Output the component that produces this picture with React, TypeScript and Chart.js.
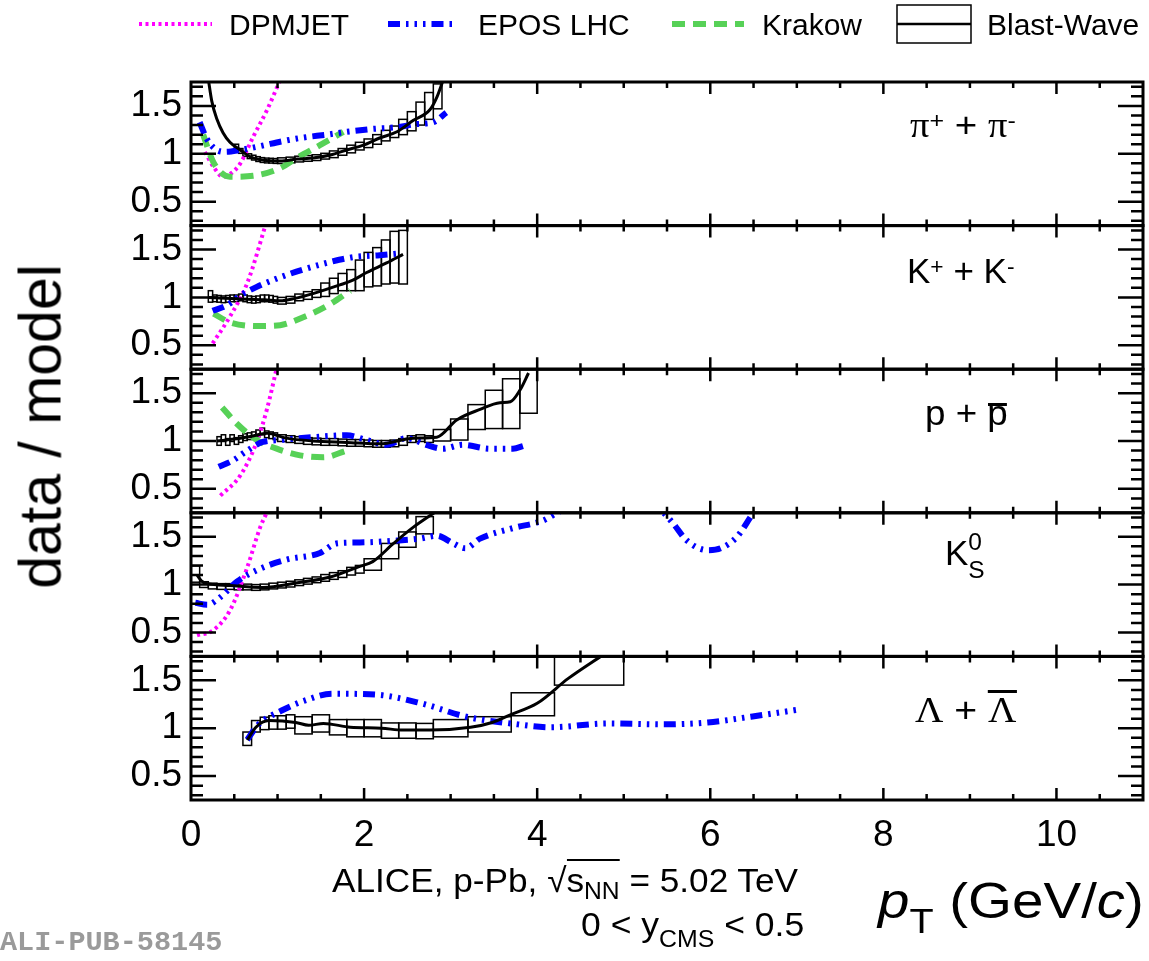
import React, { useEffect, useRef } from 'react';
import { Chart, registerables } from 'chart.js';

Chart.register(...registerables);

// ---------- page / frame geometry ----------
const W = 1149;
const H = 961;
const PLOT_LEFT = 191;
const PLOT_RIGHT = 1143;
const PLOT_TOP = 82;
const PANEL_H = 143.6;
const X_MIN = 0;
const X_MAX = 11;
const Y_MIN = 0.25;
const Y_MAX = 1.75;
const X_TICKS = [0, 2, 4, 6, 8, 10];
const Y_TICKS = [0.5, 1, 1.5];

const SANS = '"Liberation Sans", Arial, Helvetica, sans-serif';
const SERIF = '"Liberation Serif", "Times New Roman", serif';
const MONO = '"Liberation Mono", "DejaVu Sans Mono", monospace';

const C_DPMJET = '#ff00ff';
const C_EPOS = '#0000ff';
const C_KRAKOW = '#57d157';
const C_BW = '#000000';

// ---------- pi+ + pi- ----------
const PI_BW_X = [0.2, 0.24, 0.3, 0.37, 0.45, 0.57, 0.68, 0.83, 1.03, 1.23, 1.41, 1.61, 1.8, 1.99, 2.18, 2.38, 2.57, 2.76, 2.84, 2.91];
const PI_BW_Y = [1.78, 1.55, 1.36, 1.22, 1.12, 1.04, 0.97, 0.935, 0.925, 0.945, 0.956, 0.987, 1.04, 1.09, 1.165, 1.23, 1.35, 1.46, 1.59, 1.76];
const PI_BOX_LO = [0.5, 0.55, 0.6, 0.65, 0.7, 0.75, 0.8, 0.85, 0.9, 0.95, 1.0, 1.1, 1.2, 1.3, 1.4, 1.5, 1.6, 1.7, 1.8, 1.9, 2.0, 2.1, 2.2, 2.3, 2.4, 2.5, 2.6, 2.7, 2.8];
const PI_BOX_HI = [0.55, 0.6, 0.65, 0.7, 0.75, 0.8, 0.85, 0.9, 0.95, 1.0, 1.1, 1.2, 1.3, 1.4, 1.5, 1.6, 1.7, 1.8, 1.9, 2.0, 2.1, 2.2, 2.3, 2.4, 2.5, 2.6, 2.7, 2.8, 2.9];
const PI_BOX_Y = [1.07, 1.03, 1.0, 0.975, 0.96, 0.945, 0.935, 0.93, 0.928, 0.925, 0.928, 0.935, 0.945, 0.952, 0.96, 0.975, 0.995, 1.02, 1.05, 1.08, 1.11, 1.15, 1.19, 1.23, 1.28, 1.34, 1.42, 1.5, 1.6];
const PI_BOX_ERR = [0.03, 0.025, 0.025, 0.025, 0.025, 0.025, 0.025, 0.025, 0.025, 0.025, 0.03, 0.03, 0.03, 0.03, 0.03, 0.03, 0.035, 0.035, 0.04, 0.04, 0.045, 0.05, 0.055, 0.06, 0.08, 0.1, 0.12, 0.14, 0.13];
const PI_EPOS_X = [0.1, 0.18, 0.28, 0.4, 0.57, 0.8, 1.05, 1.3, 1.57, 1.8, 2.1, 2.4, 2.6, 2.8, 2.95];
const PI_EPOS_Y = [1.33, 1.16, 1.05, 1.02, 1.04, 1.08, 1.13, 1.17, 1.2, 1.23, 1.26, 1.28, 1.31, 1.33, 1.43];
const PI_KRAKOW_X = [0.14, 0.26, 0.45, 0.72, 1.03, 1.23, 1.49, 1.76];
const PI_KRAKOW_Y = [1.2, 0.91, 0.76, 0.77, 0.85, 0.96, 1.09, 1.23];
const PI_DPMJET_X = [0.16, 0.27, 0.37, 0.47, 0.57, 0.72, 0.88, 1.03];
const PI_DPMJET_Y = [1.02, 0.85, 0.76, 0.8, 0.9, 1.18, 1.46, 1.77];

// ---------- K+ + K- ----------
const K_BW_X = [0.2, 0.4, 0.65, 0.85, 1.03, 1.2, 1.41, 1.72, 1.87, 2.03, 2.26, 2.45];
const K_BW_Y = [1.0, 0.99, 0.98, 0.975, 0.965, 0.99, 1.04, 1.13, 1.18, 1.26, 1.36, 1.45];
const K_BOX_LO = [0.2, 0.25, 0.3, 0.35, 0.4, 0.45, 0.5, 0.55, 0.6, 0.65, 0.7, 0.75, 0.8, 0.85, 0.9, 0.95, 1.0, 1.1, 1.2, 1.3, 1.4, 1.5, 1.6, 1.7, 1.8, 1.9, 2.0, 2.1, 2.2, 2.3, 2.4];
const K_BOX_HI = [0.25, 0.3, 0.35, 0.4, 0.45, 0.5, 0.55, 0.6, 0.65, 0.7, 0.75, 0.8, 0.85, 0.9, 0.95, 1.0, 1.1, 1.2, 1.3, 1.4, 1.5, 1.6, 1.7, 1.8, 1.9, 2.0, 2.1, 2.2, 2.3, 2.4, 2.5];
const K_BOX_Y = [1.01, 0.99, 0.985, 0.98, 0.985, 0.99, 0.99, 1.0, 0.99, 0.98, 0.975, 0.98, 0.99, 0.99, 0.985, 0.975, 0.965, 0.975, 1.0, 1.02, 1.04, 1.08, 1.12, 1.16, 1.18, 1.23, 1.29, 1.32, 1.37, 1.42, 1.42];
const K_BOX_ERR = [0.06, 0.035, 0.035, 0.035, 0.035, 0.035, 0.035, 0.035, 0.035, 0.035, 0.035, 0.035, 0.035, 0.035, 0.035, 0.035, 0.035, 0.035, 0.035, 0.04, 0.04, 0.07, 0.08, 0.09, 0.11, 0.16, 0.18, 0.2, 0.23, 0.27, 0.28];
const K_EPOS_X = [0.25, 0.42, 0.57, 0.76, 1.03, 1.29, 1.61, 1.87, 2.18, 2.42];
const K_EPOS_Y = [0.86, 0.92, 1.02, 1.11, 1.21, 1.29, 1.37, 1.42, 1.44, 1.46];
const K_KRAKOW_X = [0.26, 0.45, 0.76, 1.03, 1.29, 1.57, 1.84];
const K_KRAKOW_Y = [0.83, 0.74, 0.7, 0.71, 0.79, 0.91, 1.07];
const K_DPMJET_X = [0.25, 0.45, 0.65, 0.87];
const K_DPMJET_Y = [0.52, 0.8, 1.15, 1.78];

// ---------- p + pbar ----------
const P_BW_X = [0.3, 0.5, 0.7, 0.88, 1.1, 1.41, 1.8, 2.18, 2.57, 2.84, 3.07, 3.34, 3.57, 3.69, 3.8, 3.9];
const P_BW_Y = [1.0, 1.02, 1.05, 1.08, 1.03, 1.0, 0.985, 0.97, 1.03, 1.04, 1.22, 1.33, 1.4, 1.41, 1.53, 1.71];
const P_BOX_LO = [0.3, 0.35, 0.4, 0.45, 0.5, 0.55, 0.6, 0.65, 0.7, 0.75, 0.8, 0.85, 0.9, 0.95, 1.0, 1.1, 1.2, 1.3, 1.4, 1.5, 1.6, 1.7, 1.8, 1.9, 2.0, 2.1, 2.2, 2.3, 2.4, 2.5, 2.6, 2.7, 2.8, 3.0, 3.2, 3.4, 3.6, 3.8];
const P_BOX_HI = [0.35, 0.4, 0.45, 0.5, 0.55, 0.6, 0.65, 0.7, 0.75, 0.8, 0.85, 0.9, 0.95, 1.0, 1.1, 1.2, 1.3, 1.4, 1.5, 1.6, 1.7, 1.8, 1.9, 2.0, 2.1, 2.2, 2.3, 2.4, 2.5, 2.6, 2.7, 2.8, 3.0, 3.2, 3.4, 3.6, 3.8, 4.0];
const P_BOX_Y = [1.0, 1.03, 0.99, 1.03, 1.0, 1.02, 1.04, 1.05, 1.06, 1.08, 1.1, 1.07, 1.06, 1.05, 1.03, 1.02, 1.01, 1.0, 0.995, 0.99, 0.99, 0.985, 0.98, 0.98, 0.975, 0.97, 0.97, 0.975, 0.99, 1.02, 1.03, 1.02, 1.06, 1.12, 1.25, 1.33, 1.39, 1.52];
const P_BOX_ERR = [0.045, 0.035, 0.035, 0.035, 0.035, 0.035, 0.035, 0.035, 0.035, 0.035, 0.035, 0.035, 0.035, 0.035, 0.035, 0.035, 0.035, 0.035, 0.035, 0.035, 0.035, 0.035, 0.035, 0.035, 0.035, 0.035, 0.035, 0.035, 0.035, 0.035, 0.035, 0.035, 0.06, 0.11, 0.13, 0.2, 0.26, 0.23];
const P_EPOS_X = [0.32, 0.49, 0.65, 0.83, 1.03, 1.41, 1.8, 2.03, 2.26, 2.49, 2.72, 2.91, 3.14, 3.45, 3.72, 3.85];
const P_EPOS_Y = [0.73, 0.8, 0.9, 0.99, 1.01, 1.04, 1.06, 1.01, 0.96, 1.03, 0.96, 0.92, 0.96, 0.92, 0.92, 0.95];
const P_KRAKOW_X = [0.36, 0.53, 0.76, 0.99, 1.26, 1.53, 1.8];
const P_KRAKOW_Y = [1.35, 1.18, 1.01, 0.92, 0.85, 0.83, 0.9];
const P_DPMJET_X = [0.34, 0.57, 0.76, 0.88, 0.99];
const P_DPMJET_Y = [0.43, 0.64, 0.99, 1.34, 1.76];

// ---------- K0s ----------
const K0_BW_X = [0.07, 0.12, 0.19, 0.45, 0.83, 1.23, 1.61, 1.95, 2.1, 2.34, 2.57, 2.86];
const K0_BW_Y = [1.1, 1.04, 1.01, 0.99, 0.97, 1.02, 1.08, 1.19, 1.24, 1.43, 1.6, 1.78];
const K0_BOX_LO = [0.0, 0.1, 0.2, 0.3, 0.4, 0.5, 0.6, 0.7, 0.8, 0.9, 1.0, 1.1, 1.2, 1.3, 1.4, 1.5, 1.6, 1.7, 1.8, 1.9, 2.0, 2.2, 2.4, 2.6];
const K0_BOX_HI = [0.1, 0.2, 0.3, 0.4, 0.5, 0.6, 0.7, 0.8, 0.9, 1.0, 1.1, 1.2, 1.3, 1.4, 1.5, 1.6, 1.7, 1.8, 1.9, 2.0, 2.2, 2.4, 2.6, 2.8];
const K0_BOX_Y = [1.11, 1.0, 0.985, 0.98, 0.98, 0.975, 0.975, 0.97, 0.975, 0.985, 0.995, 1.005, 1.02, 1.035, 1.05, 1.07, 1.09, 1.11, 1.14, 1.16, 1.21, 1.35, 1.47, 1.62];
const K0_BOX_ERR = [0.085, 0.03, 0.03, 0.03, 0.03, 0.03, 0.03, 0.03, 0.03, 0.03, 0.03, 0.03, 0.03, 0.03, 0.03, 0.035, 0.035, 0.035, 0.04, 0.04, 0.06, 0.08, 0.08, 0.09];
const K0_EPOS_X = [0.05, 0.19, 0.34, 0.53, 0.76, 1.1, 1.49, 1.68, 1.95, 2.38, 2.64, 2.84, 3.03, 3.17, 3.34, 3.72, 4.07, 4.23, 4.6, 5.0, 5.3, 5.46, 5.57, 5.73, 5.97, 6.12, 6.31, 6.5, 6.7];
const K0_EPOS_Y = [0.81, 0.79, 0.87, 1.03, 1.15, 1.26, 1.33, 1.43, 1.44, 1.46, 1.48, 1.51, 1.43, 1.38, 1.48, 1.59, 1.67, 1.75, 1.9, 1.95, 1.85, 1.75, 1.64, 1.46, 1.36, 1.38, 1.5, 1.75, 1.95];
const K0_DPMJET_X = [0.07, 0.25, 0.45, 0.65, 0.8, 0.88];
const K0_DPMJET_Y = [0.47, 0.52, 0.73, 1.18, 1.6, 1.76];

// ---------- Lambda + anti-Lambda ----------
const L_BW_X = [0.65, 0.75, 0.9, 1.21, 1.36, 1.53, 1.84, 2.2, 2.45, 2.76, 3.23, 3.48, 3.69, 4.0, 4.36, 4.75];
const L_BW_Y = [0.877, 1.01, 1.08, 1.06, 1.03, 1.05, 1.01, 1.0, 0.98, 0.98, 1.01, 1.06, 1.14, 1.26, 1.52, 1.76];
const L_BOX_LO = [0.6, 0.7, 0.8, 0.9, 1.0, 1.1, 1.2, 1.4, 1.6, 1.8, 2.0, 2.2, 2.4, 2.6, 2.8, 3.2, 3.7, 4.2];
const L_BOX_HI = [0.7, 0.8, 0.9, 1.0, 1.1, 1.2, 1.4, 1.6, 1.8, 2.0, 2.2, 2.4, 2.6, 2.8, 3.2, 3.7, 4.2, 5.0];
const L_BOX_Y = [0.89, 1.02, 1.05, 1.06, 1.06, 1.07, 1.03, 1.05, 1.01, 1.0, 1.0, 0.975, 0.975, 0.97, 1.0, 1.04, 1.25, 1.6];
const L_BOX_ERR = [0.07, 0.06, 0.065, 0.07, 0.07, 0.07, 0.09, 0.09, 0.08, 0.09, 0.09, 0.08, 0.08, 0.08, 0.09, 0.08, 0.12, 0.15];
const L_EPOS_X = [0.65, 0.77, 1.06, 1.32, 1.63, 2.14, 2.66, 3.18, 3.69, 4.16, 4.82, 5.45, 5.97, 6.47, 6.99];
const L_EPOS_Y = [0.88, 1.03, 1.19, 1.29, 1.36, 1.35, 1.26, 1.12, 1.05, 1.01, 1.05, 1.04, 1.06, 1.12, 1.19];

type Series = { x: number[]; y: number[] } | null;
type PanelData = {
  bw: Series; epos: Series; krakow: Series; dpmjet: Series;
  lo: number[]; hi: number[]; v: number[]; e: number[];
};

const PANELS: PanelData[] = [
  { bw: { x: PI_BW_X, y: PI_BW_Y }, epos: { x: PI_EPOS_X, y: PI_EPOS_Y }, krakow: { x: PI_KRAKOW_X, y: PI_KRAKOW_Y }, dpmjet: { x: PI_DPMJET_X, y: PI_DPMJET_Y }, lo: PI_BOX_LO, hi: PI_BOX_HI, v: PI_BOX_Y, e: PI_BOX_ERR },
  { bw: { x: K_BW_X, y: K_BW_Y }, epos: { x: K_EPOS_X, y: K_EPOS_Y }, krakow: { x: K_KRAKOW_X, y: K_KRAKOW_Y }, dpmjet: { x: K_DPMJET_X, y: K_DPMJET_Y }, lo: K_BOX_LO, hi: K_BOX_HI, v: K_BOX_Y, e: K_BOX_ERR },
  { bw: { x: P_BW_X, y: P_BW_Y }, epos: { x: P_EPOS_X, y: P_EPOS_Y }, krakow: { x: P_KRAKOW_X, y: P_KRAKOW_Y }, dpmjet: { x: P_DPMJET_X, y: P_DPMJET_Y }, lo: P_BOX_LO, hi: P_BOX_HI, v: P_BOX_Y, e: P_BOX_ERR },
  { bw: { x: K0_BW_X, y: K0_BW_Y }, epos: { x: K0_EPOS_X, y: K0_EPOS_Y }, krakow: null, dpmjet: { x: K0_DPMJET_X, y: K0_DPMJET_Y }, lo: K0_BOX_LO, hi: K0_BOX_HI, v: K0_BOX_Y, e: K0_BOX_ERR },
  { bw: { x: L_BW_X, y: L_BW_Y }, epos: { x: L_EPOS_X, y: L_EPOS_Y }, krakow: null, dpmjet: null, lo: L_BOX_LO, hi: L_BOX_HI, v: L_BOX_Y, e: L_BOX_ERR },
];

const DASH_DPMJET = [3, 3.5];
const DASH_EPOS = [12, 6, 2.5, 6, 2.5, 6, 2.5, 6];
const DASH_KRAKOW = [13, 8];

function pts(s: { x: number[]; y: number[] }) {
  return s.x.map((x, i) => ({ x, y: s.y[i] }));
}

function lineDs(label: string, s: Series, color: string, width: number, dash: number[]) {
  if (!s) return null;
  return {
    label,
    data: pts(s),
    borderColor: color,
    backgroundColor: color,
    borderWidth: width,
    borderDash: dash,
    borderCapStyle: 'butt',
    pointRadius: 0,
    fill: false,
    cubicInterpolationMode: 'monotone',
    clip: 0,
  };
}

function makeBoxPlugin(p: PanelData) {
  return {
    id: 'bwBoxes',
    beforeDatasetsDraw(chart: any) {
      const { ctx, chartArea: a, scales } = chart;
      const xs = scales.x, ys = scales.y;
      ctx.save();
      ctx.beginPath();
      ctx.rect(a.left, a.top, a.right - a.left, a.bottom - a.top);
      ctx.clip();
      ctx.strokeStyle = '#000';
      ctx.lineWidth = 1.5;
      for (let i = 0; i < p.lo.length; i++) {
        const x0 = xs.getPixelForValue(p.lo[i]);
        const x1 = xs.getPixelForValue(p.hi[i]);
        const y0 = ys.getPixelForValue(p.v[i] + p.e[i]);
        const y1 = ys.getPixelForValue(p.v[i] - p.e[i]);
        ctx.strokeRect(x0, y0, x1 - x0, y1 - y0);
      }
      ctx.restore();
    },
  };
}

const framePlugin = {
  id: 'rootFrame',
  afterDraw(chart: any) {
    const { ctx, chartArea: a, scales } = chart;
    const xs = scales.x, ys = scales.y;
    ctx.save();
    ctx.strokeStyle = '#000';
    ctx.lineWidth = 3;
    ctx.strokeRect(a.left, a.top, a.right - a.left, a.bottom - a.top);
    ctx.lineWidth = 2.5;
    ctx.beginPath();
    for (let i = 1; i < 22; i++) {
      const v = i * 0.5;
      const px = xs.getPixelForValue(v);
      const len = i % 4 === 0 ? 12 : 6;
      ctx.moveTo(px, a.top);
      ctx.lineTo(px, a.top + len);
      ctx.moveTo(px, a.bottom);
      ctx.lineTo(px, a.bottom - len);
    }
    for (let i = 3; i <= 17; i++) {
      const v = i / 10;
      const py = ys.getPixelForValue(v);
      const len = i % 5 === 0 ? 25 : 12;
      ctx.moveTo(a.left, py);
      ctx.lineTo(a.left + len, py);
      ctx.moveTo(a.right, py);
      ctx.lineTo(a.right - len, py);
    }
    ctx.stroke();
    ctx.restore();
  },
};

function Panel({ idx }: { idx: number }) {
  const ref = useRef<HTMLCanvasElement | null>(null);
  useEffect(() => {
    const p = PANELS[idx];
    const top = PLOT_TOP + idx * PANEL_H;
    const bottom = top + PANEL_H;
    const isLast = idx === PANELS.length - 1;
    const xAxisH = isLast ? 60 : 0;
    const datasets = [
      lineDs('Blast-Wave', p.bw, C_BW, 3, []),
      lineDs('EPOS LHC', p.epos, C_EPOS, 6, DASH_EPOS),
      lineDs('Krakow', p.krakow, C_KRAKOW, 6, DASH_KRAKOW),
      lineDs('DPMJET', p.dpmjet, C_DPMJET, 4, DASH_DPMJET),
    ].filter(Boolean) as any[];
    const chart = new Chart(ref.current as HTMLCanvasElement, {
      type: 'line',
      data: { datasets },
      options: {
        responsive: false,
        animation: false,
        devicePixelRatio: 1,
        events: [],
        layout: {
          padding: { top, left: 0, right: W - PLOT_RIGHT, bottom: H - bottom - xAxisH },
        },
        plugins: { legend: { display: false }, tooltip: { enabled: false }, title: { display: false } },
        scales: {
          x: {
            type: 'linear',
            min: X_MIN,
            max: X_MAX,
            grid: { display: false, drawTicks: false },
            border: { display: false },
            ticks: {
              display: isLast,
              color: '#000',
              font: { family: SANS, size: 37 },
              padding: 14,
              maxRotation: 0,
              autoSkip: false,
              callback: (v: any) => String(v),
            },
            afterBuildTicks: (s: any) => {
              s.ticks = X_TICKS.map((value) => ({ value }));
            },
            afterFit: (s: any) => {
              s.height = xAxisH;
            },
          },
          y: {
            type: 'linear',
            min: Y_MIN,
            max: Y_MAX,
            grid: { display: false, drawTicks: false },
            border: { display: false },
            ticks: {
              color: '#000',
              font: { family: SANS, size: 37 },
              padding: 9,
              callback: (v: any) => String(v),
            },
            afterBuildTicks: (s: any) => {
              s.ticks = Y_TICKS.map((value) => ({ value }));
            },
            afterFit: (s: any) => {
              s.width = PLOT_LEFT;
            },
          },
        },
      } as any,
      plugins: [makeBoxPlugin(p), framePlugin],
    });
    return () => chart.destroy();
  }, [idx]);
  return (
    <canvas
      ref={ref}
      width={W}
      height={H}
      style={{ position: 'absolute', left: 0, top: 0, width: W, height: H }}
    />
  );
}

function Txt({ x, base, size, children, family = SANS, sx = 1, style = {} }: any) {
  return (
    <div
      style={{
        position: 'absolute',
        left: x,
        top: base - 0.8465 * size,
        fontFamily: family,
        fontSize: size,
        lineHeight: `${size}px`,
        whiteSpace: 'nowrap',
        color: '#000',
        transform: sx !== 1 ? `scaleX(${sx})` : undefined,
        transformOrigin: '0 50%',
        ...style,
      }}
    >
      {children}
    </div>
  );
}

const sup = (t: string, dy = -0.42) => (
  <span style={{ position: 'relative', top: `${dy}em`, fontSize: '0.65em' }}>{t}</span>
);

export default function App() {
  return (
    <div
      style={{
        position: 'absolute',
        left: 0,
        top: 0,
        width: W,
        height: H,
        background: '#fff',
        overflow: 'hidden',
      }}
    >
      {PANELS.map((_, i) => (
        <Panel key={i} idx={i} />
      ))}

      {/* legend */}
      <svg width={W} height={60} style={{ position: 'absolute', left: 0, top: 0 }}>
        <line x1={139} y1={24} x2={212} y2={24} stroke={C_DPMJET} strokeWidth={4} strokeDasharray={DASH_DPMJET.join(' ')} />
        <line x1={388} y1={24} x2={456} y2={24} stroke={C_EPOS} strokeWidth={6} strokeDasharray={DASH_EPOS.join(' ')} />
        <line x1={672} y1={24} x2={744} y2={24} stroke={C_KRAKOW} strokeWidth={6} strokeDasharray={DASH_KRAKOW.join(' ')} />
        <rect x={897} y={5} width={74} height={38} fill="none" stroke="#000" strokeWidth={1.5} />
        <line x1={897} y1={24} x2={971} y2={24} stroke="#000" strokeWidth={2.5} />
      </svg>
      <Txt x={229} base={35} size={30}>DPMJET</Txt>
      <Txt x={478} base={35} size={30}>EPOS LHC</Txt>
      <Txt x={762} base={35} size={30}>Krakow</Txt>
      <Txt x={987} base={35} size={30}>Blast-Wave</Txt>

      {/* panel labels */}
      <Txt x={910} base={137} size={35} sx={1.1}>
        <span style={{ fontFamily: SERIF }}>π</span>{sup('+')} + <span style={{ fontFamily: SERIF }}>π</span>{sup('-')}
      </Txt>
      <Txt x={907} base={283} size={35}>
        K{sup('+')} + K{sup('-')}
      </Txt>
      <Txt x={925} base={425} size={35} sx={1.05}>
        p + <span style={{ position: 'relative' }}>p<span style={{ position: 'absolute', left: 1, right: 1, top: 10, height: 3, background: '#000' }} /></span>
      </Txt>
      <Txt x={945} base={565} size={35}>
        K<span style={{ position: 'relative', top: -15, fontSize: '0.7em' }}>0</span>
        <span style={{ position: 'relative', top: 13, fontSize: '0.7em', marginLeft: '-0.56em' }}>S</span>
      </Txt>
      <Txt x={915} base={722} size={35} sx={1.12}>
        <span style={{ fontFamily: SERIF }}>Λ</span> + <span style={{ position: 'relative', fontFamily: SERIF }}>Λ<span style={{ position: 'absolute', left: 0, right: 0, top: -1, height: 3, background: '#000' }} /></span>
      </Txt>

      {/* y title */}
      <div
        style={{
          position: 'absolute',
          left: 41 - 250,
          top: 426 - 29.5,
          width: 500,
          height: 59,
          lineHeight: '59px',
          fontSize: 59,
          fontFamily: SANS,
          textAlign: 'center',
          transform: 'rotate(-90deg)',
          transformOrigin: '50% 50%',
          whiteSpace: 'nowrap',
          color: '#000',
        }}
      >
        data / model
      </div>

      {/* x title */}
      <Txt x={878} base={918} size={50} sx={1.13}>
        <i>p</i>
        <span style={{ position: 'relative', top: '0.45em', fontSize: '0.7em' }}>T</span> (GeV/<i>c</i>)
      </Txt>

      {/* annotations */}
      <Txt x={332} base={892} size={34} sx={1.035}>
        ALICE, p-Pb, √<span style={{ borderTop: '2px solid #000' }}>s<span style={{ position: 'relative', top: '0.3em', fontSize: '0.7em' }}>NN</span></span> = 5.02 TeV
      </Txt>
      <Txt x={581} base={936} size={34} sx={1.045}>
        0 &lt; y<span style={{ position: 'relative', top: '0.45em', fontSize: '0.7em' }}>CMS</span> &lt; 0.5
      </Txt>
      <Txt x={0} base={953} size={28.5} family={MONO} style={{ color: '#9a9a9a', fontWeight: 'bold' }}>
        ALI-PUB-58145
      </Txt>
    </div>
  );
}
